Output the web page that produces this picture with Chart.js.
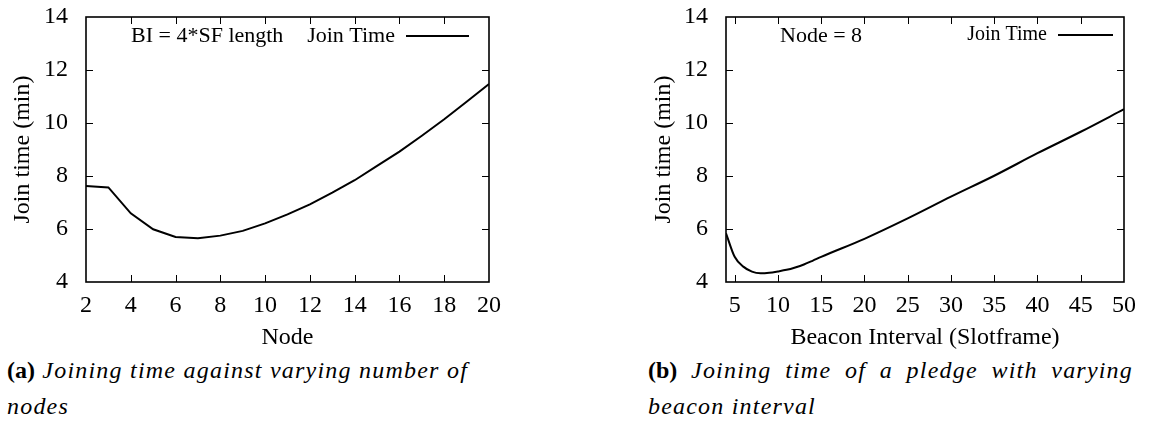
<!DOCTYPE html>
<html>
<head>
<meta charset="utf-8">
<script src="https://cdn.jsdelivr.net/npm/chart.js@4/dist/chart.umd.min.js"></script>
<style>
	body { margin: 0; background: #fff; width: 1149px; height: 421px; position: relative; overflow: hidden; }
	.panel { position: absolute; top: 0; overflow: hidden; height: 352px; }
	.caption { position: absolute; font-family: "Liberation Serif", serif; font-size: 24px; line-height: 36px; color: #000; white-space: nowrap; letter-spacing: 1.2px; }
	.caption .first { text-align: justify; text-align-last: justify; }
	.caption b { font-weight: bold; letter-spacing: 0; }
	.caption i { font-style: italic; }
</style>
</head>
<body>
<div class="panel" style="left:0; width:502px;"><canvas id="chart-nodes"></canvas></div>
<div class="panel" style="left:620px; width:515px;"><canvas id="chart-beacon"></canvas></div>
<div class="caption" style="left:7px; top:352px; width:461px;">
	<div class="first"><b>(a)</b> <i>Joining time against varying number of</i></div>
	<div><i>nodes</i></div>
</div>
<div class="caption" style="left:648px; top:352px; width:485px;">
	<div class="first"><b>(b)</b> <i>Joining time of a pledge with varying</i></div>
	<div><i>beacon interval</i></div>
</div>
<script>
// join time vs number of nodes (BI = 4*SF length)
const nodeCounts = [2, 3, 4, 5, 6, 7, 8, 9, 10, 11, 12, 13, 14, 15, 16, 17, 18, 19, 20];
const nodeJoinTime = [7.62, 7.57, 6.59, 5.99, 5.70, 5.65, 5.75, 5.93, 6.21, 6.55, 6.93, 7.37, 7.84, 8.38, 8.92, 9.52, 10.14, 10.80, 11.47];
const nodeTicks = [2, 4, 6, 8, 10, 12, 14, 16, 18, 20];

// join time vs beacon interval (node = 8)
const beaconIntervals = [4, 5, 6, 7, 8, 9, 10, 11, 12, 13, 14, 15, 20, 25, 30, 35, 40, 45, 50];
const beaconJoinTime = [5.84, 4.95, 4.58, 4.39, 4.33, 4.35, 4.40, 4.46, 4.55, 4.66, 4.80, 4.95, 5.63, 6.40, 7.22, 8.01, 8.86, 9.67, 10.52];
const beaconTicks = [5, 10, 15, 20, 25, 30, 35, 40, 45, 50];

const joinTicks = [4, 6, 8, 10, 12, 14];
const seriesLabel = 'Join Time';
const serif = '"Liberation Serif", "Times New Roman", serif';

// gnuplot style box with inward ticks on all four sides
const frameTicks = {
	id: 'frameTicks',
	afterDraw(chart) {
		const { ctx, chartArea: a, scales: { x, y } } = chart;
		const len = 7;
		ctx.save();
		ctx.strokeStyle = '#000';
		ctx.lineWidth = 1;
		ctx.beginPath();
		x.ticks.forEach(t => {
			const px = Math.round(x.getPixelForValue(t.value)) + 0.5;
			if (px <= a.left + 1 || px >= a.right - 1) return;
			ctx.moveTo(px, a.bottom); ctx.lineTo(px, a.bottom - len);
			ctx.moveTo(px, a.top); ctx.lineTo(px, a.top + len);
		});
		y.ticks.forEach(t => {
			const py = Math.round(y.getPixelForValue(t.value)) + 0.5;
			if (py <= a.top + 1 || py >= a.bottom - 1) return;
			ctx.moveTo(a.left, py); ctx.lineTo(a.left + len, py);
			ctx.moveTo(a.right, py); ctx.lineTo(a.right - len, py);
		});
		ctx.stroke();
		ctx.lineWidth = 1.6;
		ctx.strokeRect(a.left, a.top, a.right - a.left, a.bottom - a.top);
		ctx.restore();
	}
};

// key at the top right plus a free text note
const keyBox = {
	id: 'keyBox',
	afterDraw(chart, args, opts) {
		const { ctx, chartArea: a } = chart;
		ctx.save();
		ctx.fillStyle = '#000';
		ctx.textBaseline = 'middle';
		ctx.font = opts.noteSize + 'px ' + serif;
		ctx.textAlign = 'left';
		ctx.fillText(opts.note, a.left + opts.noteX, a.top + 19);
		ctx.font = opts.keySize + 'px ' + serif;
		ctx.textAlign = 'right';
		const lineEnd = a.right - opts.keyRight;
		const lineStart = lineEnd - opts.keyLen;
		ctx.fillText(chart.data.datasets[0].label, lineStart - 11, a.top + opts.keyY);
		ctx.strokeStyle = '#000';
		ctx.lineWidth = 2;
		ctx.beginPath();
		ctx.moveTo(lineStart, a.top + opts.keyY);
		ctx.lineTo(lineEnd, a.top + opts.keyY);
		ctx.stroke();
		ctx.restore();
	}
};

function makeChart(id, w, axisW, titlePad, padRight, xs, ys, xMin, xMax, xTicks, xTitle, smooth, key) {
	const canvas = document.getElementById(id);
	canvas.width = w;
	canvas.height = 352;
	return new Chart(canvas, {
		type: 'line',
		data: {
			datasets: [{
				label: seriesLabel,
				data: xs.map((v, i) => ({ x: v, y: ys[i] })),
				borderColor: '#000',
				borderWidth: 2,
				pointRadius: 0,
				tension: smooth ? 0.4 : 0,
				cubicInterpolationMode: smooth ? 'monotone' : 'default',
				fill: false
			}]
		},
		options: {
			responsive: false,
			animation: false,
			layout: { padding: { top: 17, right: padRight, left: 0, bottom: 0 } },
			plugins: {
				legend: { display: false },
				tooltip: { enabled: false },
				keyBox: key
			},
			scales: {
				x: {
					type: 'linear',
					min: xMin,
					max: xMax,
					afterBuildTicks: s => { s.ticks = xTicks.map(v => ({ value: v })); },
					afterFit: s => { s.height = 70; s.paddingLeft = 0; s.paddingRight = 0; },
					grid: { display: false, drawTicks: false },
					border: { display: false },
					ticks: { color: '#000', font: { family: serif, size: 24 }, padding: 9, maxRotation: 0, autoSkip: false },
					title: { display: true, text: xTitle, color: '#000', font: { family: serif, size: 24 }, padding: { top: 0, bottom: 0 } }
				},
				y: {
					min: 4,
					max: 14,
					afterBuildTicks: s => { s.ticks = joinTicks.map(v => ({ value: v })); },
					afterFit: s => { s.width = axisW; s.paddingTop = 0; s.paddingBottom = 0; },
					grid: { display: false, drawTicks: false },
					border: { display: false },
					ticks: { color: '#000', font: { family: serif, size: 24 }, padding: 18 },
					title: { display: true, text: 'Join time (min)', color: '#000', font: { family: serif, size: 24 }, padding: { top: titlePad, bottom: 0 } }
				}
			}
		},
		plugins: [frameTicks, keyBox]
	});
}

makeChart('chart-nodes', 520, 86, 8, 31, nodeCounts, nodeJoinTime, 2, 20, nodeTicks, 'Node', false,
	{ note: 'BI = 4*SF length', noteX: 45, noteSize: 22, keySize: 22, keyY: 19, keyRight: 20, keyLen: 63 });
makeChart('chart-beacon', 529, 106, 29, 25, beaconIntervals, beaconJoinTime, 4, 50, beaconTicks, 'Beacon Interval (Slotframe)', true,
	{ note: 'Node = 8', noteX: 54, noteSize: 22, keySize: 20, keyY: 18, keyRight: 11, keyLen: 55 });
</script>
</body>
</html>
